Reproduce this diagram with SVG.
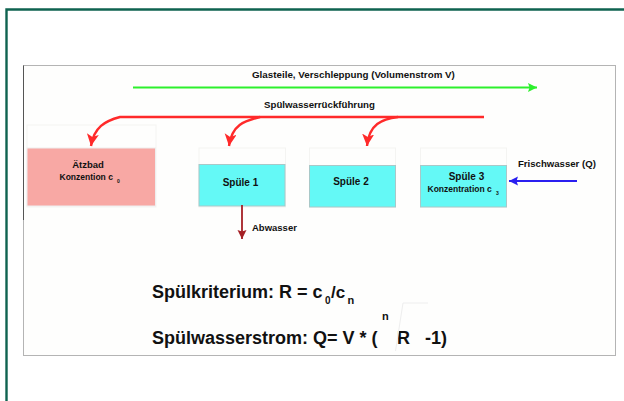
<svg xmlns="http://www.w3.org/2000/svg" width="624" height="401" viewBox="0 0 624 401">
<style>
text{font-family:"Liberation Sans",Arial,sans-serif;fill:#111;font-weight:700}
.s{font-size:9.800px}.m{font-size:10px}.b{font-size:18px}.t{font-size:8.500px}
.tank{fill:#fefefd;stroke:#f4f4f2;stroke-width:1}
.w{fill:#64f9f6;stroke:#a9c8c8;stroke-width:1}
.r{fill:none;stroke:#ff2a2a;stroke-width:2.400}
</style>
<defs>
<marker id="ar" markerUnits="userSpaceOnUse" markerWidth="14" markerHeight="14" refX="12" refY="6" orient="auto"><path d="M0 0L12 6L0 12L3 6Z" fill="#ff2a2a"/></marker>
<marker id="ag" markerUnits="userSpaceOnUse" markerWidth="12" markerHeight="12" refX="9" refY="4.500" orient="auto"><path d="M0 0L9 4.500L0 9L1.500 4.500Z" fill="#2df02d"/></marker>
<marker id="ab" markerUnits="userSpaceOnUse" markerWidth="12" markerHeight="12" refX="9" refY="4.500" orient="auto"><path d="M0 0L9 4.500L0 9L1.500 4.500Z" fill="#2a1ff0"/></marker>
<marker id="ad" markerUnits="userSpaceOnUse" markerWidth="12" markerHeight="12" refX="9" refY="4.500" orient="auto"><path d="M0 0L9 4.500L0 9L1.500 4.500Z" fill="#a52025"/></marker>
</defs>
<rect width="624" height="401" fill="#fff"/>
<path d="M6.500 401V9.500H624" fill="none" stroke="#0f6350" stroke-width="2.400"/>
<rect x="23.500" y="65.500" width="592" height="290" fill="#fefefd" stroke="#b4b4b4" stroke-width="1"/>
<path d="M23.500 65.500V220" stroke="#555" stroke-width="1" fill="none"/>

<g id="aetzbad">
<rect class="tank" x="27" y="125" width="129" height="82"/>
<rect x="27" y="148" width="128.500" height="58" fill="#f8a8a4" stroke="#eee" stroke-width="1"/>
<text class="m" x="88" y="168" text-anchor="middle" style="font-size:9.500px">Ätzbad</text>
<text class="t" x="59.500" y="180">Konzention c</text>
<text x="117" y="183" style="font-size:5px">0</text>
</g>
<g id="spuele1">
<rect class="tank" x="199" y="148" width="86.500" height="59"/>
<rect class="w" x="199" y="164.500" width="86" height="41.500"/>
<text class="m" x="240.500" y="186" text-anchor="middle">Spüle 1</text>
</g>
<g id="spuele2">
<rect class="tank" x="309.500" y="148" width="86" height="59"/>
<rect class="w" x="309.500" y="165.500" width="86" height="41.500"/>
<text class="m" x="351" y="185" text-anchor="middle">Spüle 2</text>
</g>
<g id="spuele3">
<rect class="tank" x="420.500" y="148" width="86" height="59"/>
<rect class="w" x="420.500" y="165.500" width="86" height="41.500"/>
<text class="m" x="466.500" y="180" text-anchor="middle">Spüle 3</text>
<text class="t" x="427.500" y="192">Konzentration c</text>
<text x="496" y="195" style="font-size:5px">3</text>
</g>

<g id="connectors">
<path d="M133 87.500H537" fill="none" stroke="#2df02d" stroke-width="1.800" marker-end="url(#ag)"/>
<path class="r" d="M484 117H120C105 121 94 127 91 146" marker-end="url(#ar)"/>
<path class="r" d="M260 117C245 121 232 124 229 146" marker-end="url(#ar)"/>
<path class="r" d="M398 117C382 119 369 124 367 146" marker-end="url(#ar)"/>
<path d="M577 181H509" fill="none" stroke="#2a1ff0" stroke-width="1.800" marker-end="url(#ab)"/>
<path d="M242 205V239" fill="none" stroke="#a52025" stroke-width="1.800" marker-end="url(#ad)"/>
</g>

<g id="labels">
<text class="s" x="252" y="78">Glasteile, Verschleppung (Volumenstrom V)</text>
<text class="s" x="264" y="108" style="font-size:9.700px">Spülwasserrückführung</text>
<text class="s" x="518" y="167" style="font-size:9.600px">Frischwasser (Q)</text>
<text class="t" x="252" y="231" style="font-size:9.500px">Abwasser</text>
<text class="b" x="152" y="298">Spülkriterium: R = c</text>
<text x="325" y="304" style="font-size:10px">0</text>
<text class="b" x="331" y="298" style="font-size:17px">/c</text>
<text x="347.500" y="304" style="font-size:11px">n</text>
<text x="382" y="320" style="font-size:11px">n</text>
<text class="b" x="152" y="344">Spülwasserstrom: Q= V * (</text>
<text class="b" x="397" y="344">R</text>
<text class="b" x="425" y="344">-1)</text>
<path d="M395.500 351L403 303H428" fill="none" stroke="#eee" stroke-width="1"/>
</g>
</svg>
